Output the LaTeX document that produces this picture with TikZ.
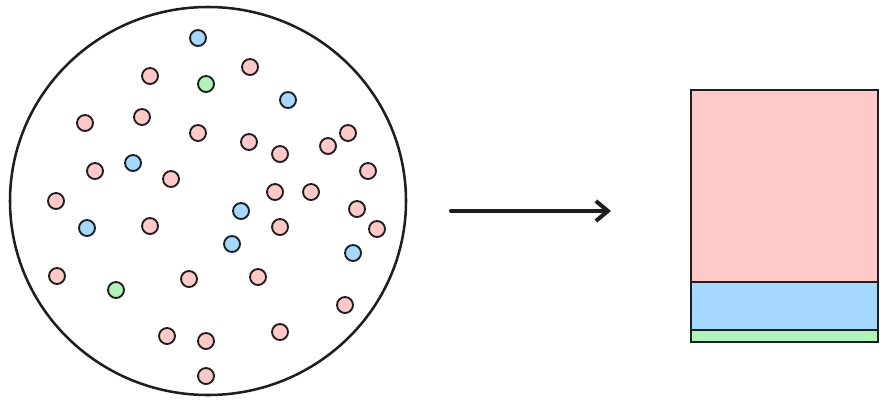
\documentclass[tikz,border=0pt]{standalone}
\usetikzlibrary{arrows.meta}
\definecolor{ink}{HTML}{1E1E1E}
\definecolor{pk}{HTML}{FFC9C9}
\definecolor{bl}{HTML}{A5D8FF}
\definecolor{gr}{HTML}{B2F2BB}
\tikzset{
  dotp/.style={draw=ink,line width=1.4pt,fill=pk},
  dotb/.style={draw=ink,line width=1.4pt,fill=bl},
  dotg/.style={draw=ink,line width=1.4pt,fill=gr},
  outline/.style={draw=ink,line width=1.9pt},
  seg/.style={draw=ink,line width=1.6pt},
}
\begin{document}
\begin{tikzpicture}[x=0.75pt,y=-0.75pt]
\useasboundingbox (0,0) rectangle (888,404);
% big circle
\draw[outline] (208,201) ellipse [x radius=198, y radius=194];
% dots
\foreach \x/\y in {250/67,150/76,85/123,142/117,198/133,249/142,280/154,328/146,348/133,368/171,95/171,171/179,56/201,275/192,311/192,357/209,377/229,150/226,280/227,57/276,189/279,258/277,345/305,167/336,206/341,280/332,206/376}
  \draw[dotp] (\x,\y) circle [radius=8];
\foreach \x/\y in {198/38,288/100,133/163,241/211,87/228,232/244,353/253}
  \draw[dotb] (\x,\y) circle [radius=8];
\foreach \x/\y in {206/84,116/290}
  \draw[dotg] (\x,\y) circle [radius=8];
% arrow
\coordinate (a1) at (451,211);
\coordinate (a2) at (611,211);
\draw[draw=ink,line width=3pt,line cap=round,-{Straight Barb[length=9pt,width=15pt,line width=3pt]}] (a1) -- (a2);
% stacked bar
\draw[seg,fill=pk] (691,90) rectangle (878,282);
\draw[seg,fill=bl] (691,282) rectangle (878,330);
\draw[seg,fill=gr] (691,330) rectangle (878,342);
\end{tikzpicture}
\end{document}
